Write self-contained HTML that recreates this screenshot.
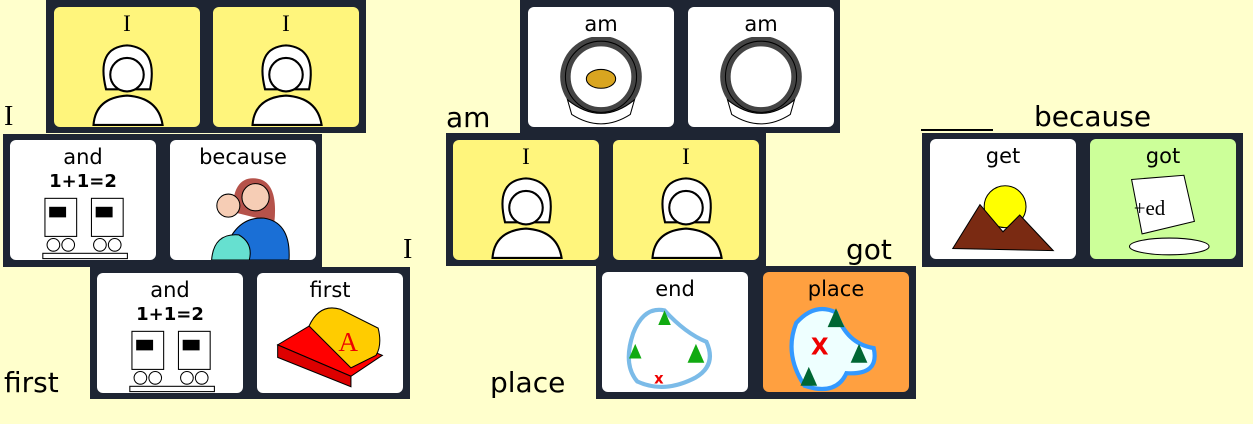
<!DOCTYPE html>
<html><head><meta charset="utf-8">
<style>
body{margin:0;width:1253px;height:424px;background:#ffffcc;position:relative;overflow:hidden;font-family:"DejaVu Sans","Liberation Sans",sans-serif;}
.panel{position:absolute;background:#1e2533;}
.card{position:absolute;top:7px;width:146px;height:120px;border-radius:6px;background:#fff;text-align:center;overflow:hidden;}
.card .t{position:absolute;left:0;right:0;top:5px;font-size:21px;color:#000;line-height:24px;}
.card .t.ser{font-size:23px;}
.card svg{position:absolute;left:18px;top:30px;}
.y{background:#fff57c;}
.g{background:#ccff99;}
.o{background:#ffa040;}
.lbl{position:absolute;font-size:28px;color:#000;line-height:30px;}
.ser{font-family:"Liberation Serif",serif;}
</style></head><body>

<div class="panel" style="left:46px;top:0;width:320px;height:133px;">
 <div class="card y" style="left:8px;"><div class="t ser">I</div>
  <svg width="110" height="90" viewBox="0 0 100 86"><path d="M30 50 Q20 10 50 8 Q80 10 72 50 Z" fill="#fff" stroke="#000" stroke-width="2"/><circle cx="50" cy="36" r="16" fill="#fff" stroke="#000" stroke-width="2"/><path d="M18 84 Q20 58 50 56 Q80 58 84 84 Z" fill="#fff" stroke="#000" stroke-width="2"/></svg></div>
 <div class="card y" style="left:167px;"><div class="t ser">I</div>
  <svg width="110" height="90" viewBox="0 0 100 86"><path d="M30 50 Q20 10 50 8 Q80 10 72 50 Z" fill="#fff" stroke="#000" stroke-width="2"/><circle cx="50" cy="36" r="16" fill="#fff" stroke="#000" stroke-width="2"/><path d="M18 84 Q20 58 50 56 Q80 58 84 84 Z" fill="#fff" stroke="#000" stroke-width="2"/></svg></div>
</div>

<div class="panel" style="left:3px;top:134px;width:319px;height:133px;">
 <div class="card" style="left:7px;top:6px;"><div class="t">and</div><div style="position:absolute;top:31px;left:0;right:0;font-weight:bold;font-size:18px;">1+1=2</div>
  <svg width="110" height="74" viewBox="0 0 100 70" style="top:52px;"><rect x="14" y="6" width="30" height="36" fill="#fff" stroke="#000"/><rect x="58" y="6" width="30" height="36" fill="#fff" stroke="#000"/><rect x="18" y="14" width="16" height="10" fill="#000"/><rect x="62" y="14" width="16" height="10" fill="#000"/><circle cx="22" cy="50" r="6" fill="#fff" stroke="#000"/><circle cx="36" cy="50" r="6" fill="#fff" stroke="#000"/><circle cx="66" cy="50" r="6" fill="#fff" stroke="#000"/><circle cx="80" cy="50" r="6" fill="#fff" stroke="#000"/><rect x="12" y="58" width="80" height="5" fill="#fff" stroke="#000"/></svg></div>
 <div class="card" style="left:167px;top:6px;"><div class="t">because</div>
  <svg width="110" height="90" viewBox="0 0 100 86"><path d="M40 40 Q40 6 62 8 Q84 10 80 50 Z" fill="#b5524a"/><circle cx="62" cy="26" r="13" fill="#f6cdb5" stroke="#000"/><path d="M30 86 Q40 44 70 46 Q96 50 94 86 Z" fill="#1a6fd6" stroke="#000"/><circle cx="36" cy="34" r="11" fill="#f6cdb5" stroke="#000"/><path d="M20 86 Q22 60 46 62 Q60 70 56 86 Z" fill="#66e0d0" stroke="#000"/></svg></div>
</div>

<div class="panel" style="left:90px;top:267px;width:320px;height:132px;">
 <div class="card" style="left:7px;top:6px;"><div class="t">and</div><div style="position:absolute;top:31px;left:0;right:0;font-weight:bold;font-size:18px;">1+1=2</div>
  <svg width="110" height="74" viewBox="0 0 100 70" style="top:52px;"><rect x="14" y="6" width="30" height="36" fill="#fff" stroke="#000"/><rect x="58" y="6" width="30" height="36" fill="#fff" stroke="#000"/><rect x="18" y="14" width="16" height="10" fill="#000"/><rect x="62" y="14" width="16" height="10" fill="#000"/><circle cx="22" cy="50" r="6" fill="#fff" stroke="#000"/><circle cx="36" cy="50" r="6" fill="#fff" stroke="#000"/><circle cx="66" cy="50" r="6" fill="#fff" stroke="#000"/><circle cx="80" cy="50" r="6" fill="#fff" stroke="#000"/><rect x="12" y="58" width="80" height="5" fill="#fff" stroke="#000"/></svg></div>
 <div class="card" style="left:167px;top:6px;"><div class="t">first</div>
  <svg width="110" height="90" viewBox="0 0 100 86"><polygon points="0,40 70,70 100,50 30,22" fill="#f00" stroke="#000"/><polygon points="0,40 70,70 70,80 0,52" fill="#d00" stroke="#000"/><path d="M30 22 Q40 0 60 6 L96 24 Q100 40 94 50 L70 62 Z" fill="#ffcc00" stroke="#000"/><text x="58" y="46" font-size="26" fill="#e00" font-family="Liberation Serif">A</text></svg></div>
</div>

<div class="panel" style="left:520px;top:0;width:320px;height:133px;">
 <div class="card" style="left:8px;top:7px;"><div class="t">am</div>
  <svg width="110" height="90" viewBox="0 0 100 86"><circle cx="50" cy="38" r="34" fill="none" stroke="#444" stroke-width="10"/><circle cx="50" cy="38" r="34" fill="none" stroke="#000"/><ellipse cx="50" cy="40" rx="14" ry="9" fill="#d9a520" stroke="#000"/><path d="M18 60 Q50 86 82 60 L78 74 Q50 92 22 74 Z" fill="#fff" stroke="#000"/></svg></div>
 <div class="card" style="left:168px;top:7px;"><div class="t">am</div>
  <svg width="110" height="90" viewBox="0 0 100 86"><circle cx="50" cy="38" r="34" fill="none" stroke="#444" stroke-width="10"/><circle cx="50" cy="38" r="34" fill="none" stroke="#000"/><path d="M18 60 Q50 86 82 60 L78 74 Q50 92 22 74 Z" fill="#fff" stroke="#000"/></svg></div>
</div>

<div class="panel" style="left:446px;top:133px;width:320px;height:133px;">
 <div class="card y" style="left:7px;top:7px;"><div class="t ser">I</div>
  <svg width="110" height="90" viewBox="0 0 100 86"><path d="M30 50 Q20 10 50 8 Q80 10 72 50 Z" fill="#fff" stroke="#000" stroke-width="2"/><circle cx="50" cy="36" r="16" fill="#fff" stroke="#000" stroke-width="2"/><path d="M18 84 Q20 58 50 56 Q80 58 84 84 Z" fill="#fff" stroke="#000" stroke-width="2"/></svg></div>
 <div class="card y" style="left:167px;top:7px;"><div class="t ser">I</div>
  <svg width="110" height="90" viewBox="0 0 100 86"><path d="M30 50 Q20 10 50 8 Q80 10 72 50 Z" fill="#fff" stroke="#000" stroke-width="2"/><circle cx="50" cy="36" r="16" fill="#fff" stroke="#000" stroke-width="2"/><path d="M18 84 Q20 58 50 56 Q80 58 84 84 Z" fill="#fff" stroke="#000" stroke-width="2"/></svg></div>
</div>

<div class="panel" style="left:596px;top:266px;width:320px;height:133px;">
 <div class="card" style="left:6px;top:6px;"><div class="t">end</div>
  <svg width="110" height="90" viewBox="0 0 100 86"><path d="M10 30 Q20 4 40 8 Q60 30 80 38 Q90 60 70 72 Q40 88 14 76 Q0 60 10 30 Z" fill="#fff" stroke="#7bbbe8" stroke-width="4"/><polygon points="40,8 34,22 46,22" fill="#1a1"/><polygon points="70,40 62,58 78,58" fill="#1a1"/><polygon points="12,40 6,54 18,54" fill="#1a1"/><text x="30" y="78" fill="#e00" font-size="14" font-weight="bold">x</text></svg></div>
 <div class="card o" style="left:167px;top:6px;"><div class="t">place</div>
  <svg width="110" height="90" viewBox="0 0 100 86"><path d="M12 20 Q30 0 50 10 Q60 40 86 44 Q92 70 60 68 Q50 90 20 80 Q0 50 12 20 Z" fill="#eff" stroke="#39f" stroke-width="4"/><text x="26" y="50" fill="#e00" font-size="22" font-weight="bold">X</text><polygon points="50,6 42,24 58,24" fill="#063"/><polygon points="72,40 64,58 80,58" fill="#063"/><polygon points="24,62 16,80 32,80" fill="#063"/></svg></div>
</div>

<div class="panel" style="left:922px;top:133px;width:321px;height:134px;">
 <div class="card" style="left:8px;top:6px;"><div class="t">get</div>
  <svg width="110" height="90" viewBox="0 0 100 86"><circle cx="52" cy="36" r="20" fill="#ff0" stroke="#000"/><polygon points="2,76 28,34 50,60 66,44 98,78" fill="#7a2a12" stroke="#000"/></svg></div>
 <div class="card g" style="left:168px;top:6px;"><div class="t">got</div>
  <svg width="110" height="90" viewBox="0 0 100 86"><path d="M20 10 L70 6 L80 50 L30 62 Z" fill="#fff" stroke="#000"/><text x="22" y="44" font-size="20" font-family="Liberation Serif">+ed</text><ellipse cx="56" cy="74" rx="38" ry="8" fill="#fff" stroke="#000"/></svg></div>
</div>

<div class="lbl ser" style="left:4px;top:102px;">I</div>
<div class="lbl" style="left:446px;top:103px;">am</div>
<div class="lbl" style="left:1034px;top:102px;">because</div>
<div style="position:absolute;left:921px;top:129px;width:72px;height:2px;background:#000;"></div>
<div class="lbl ser" style="left:403px;top:235px;">I</div>
<div class="lbl" style="left:846px;top:235px;">got</div>
<div class="lbl" style="left:4px;top:368px;">first</div>
<div class="lbl" style="left:490px;top:368px;">place</div>
</body></html>
